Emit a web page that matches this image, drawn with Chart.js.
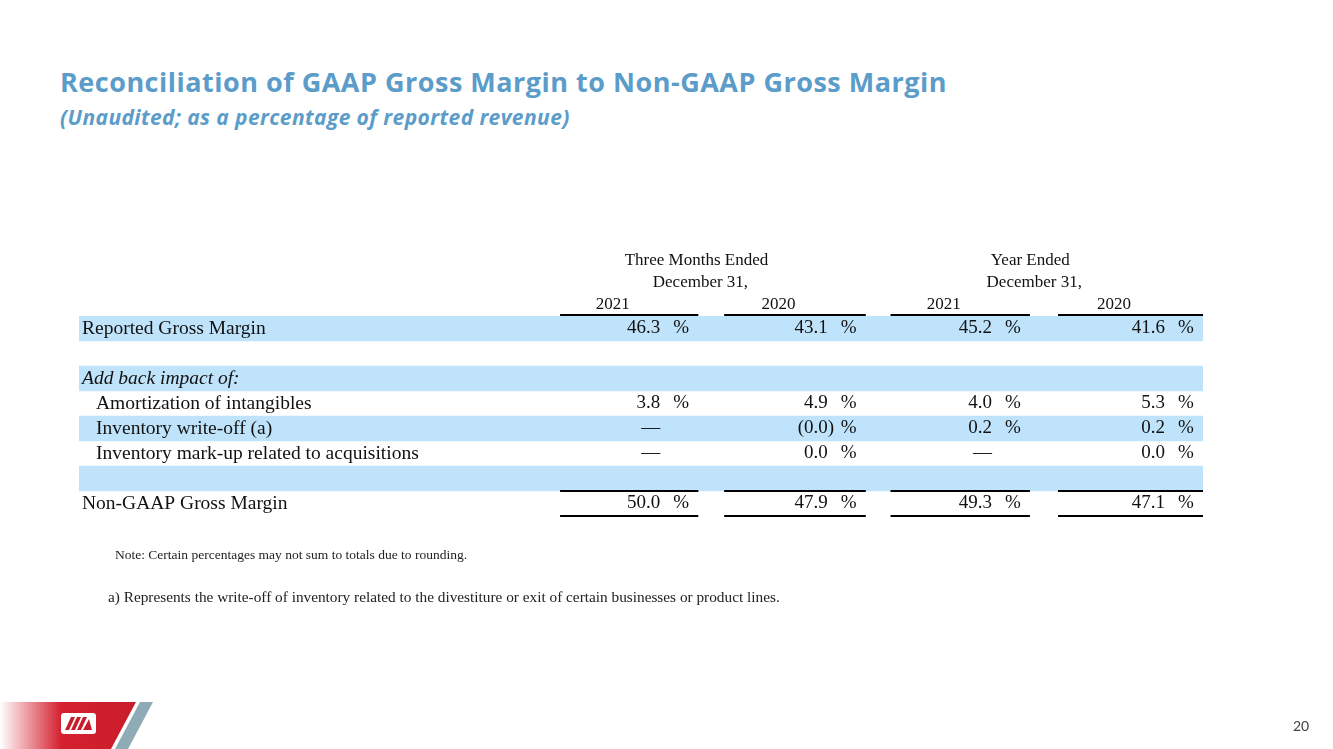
<!DOCTYPE html>
<html>
<head>
<meta charset="utf-8">
<script src="https://cdn.jsdelivr.net/npm/chart.js@4.4.1/dist/chart.umd.min.js"></script>
<style>
  html, body { margin: 0; padding: 0; background: #fff; }
  body { width: 1333px; height: 749px; position: relative; overflow: hidden; }
  .title { position: absolute; left: 60px; top: 65px; font: 700 27px "Open Sans", sans-serif; letter-spacing: 0.5px; line-height: 34px; color: #5b9cc9; white-space: nowrap; }
  .subtitle { position: absolute; left: 60px; top: 103px; font: italic 700 21px "Open Sans", sans-serif; letter-spacing: 0.4px; line-height: 28px; color: #5b9cc9; white-space: nowrap; }
  #wrap { position: absolute; left: 0; top: 0; width: 1333px; height: 749px; }
  .note { position: absolute; font-family: "Liberation Serif", serif; color: #222; white-space: nowrap; }
  .page-num { position: absolute; left: 1293px; top: 717px; font: 14px Lato, sans-serif; color: #404040; }
  .logo { position: absolute; left: 0; top: 700px; }
</style>
</head>
<body>
  <div class="title">Reconciliation of GAAP Gross Margin to Non-GAAP Gross Margin</div>
  <div class="subtitle">(Unaudited; as a percentage of reported revenue)</div>

  <div id="wrap"><canvas id="recon-table" width="1333" height="749"></canvas></div>

  <div class="note" style="left:115px; top:547px; font-size:13.5px;">Note: Certain percentages may not sum to totals due to rounding.</div>
  <div class="note" style="left:108px; top:588px; font-size:15.3px;">a) Represents the write-off of inventory related to the divestiture or exit of certain businesses or product lines.</div>

  <svg class="logo" width="170" height="49" viewBox="0 0 170 49">
    <defs>
      <linearGradient id="redFade" x1="0" x2="1" y1="0" y2="0">
        <stop offset="0" stop-color="#ffffff"/>
        <stop offset="0.45" stop-color="#d4202f"/>
        <stop offset="1" stop-color="#c91d2b"/>
      </linearGradient>
    </defs>
    <polygon points="0,2 136,2 111,49 0,49" fill="url(#redFade)"/>
    <polygon points="140,2 153,2 128,49 115,49" fill="#8fabb6"/>
    <rect x="61" y="13" width="35" height="21" rx="3" fill="#fff"/>
    <polygon points="65,30 69,30 75,17 71,17" fill="#c91d2b"/>
    <polygon points="71,30 75,30 81,17 77,17" fill="#c91d2b"/>
    <polygon points="77,30 81,30 87,17 83,17" fill="#c91d2b"/>
    <polygon points="83,30 92,30 89,19" fill="#c91d2b"/>
  </svg>

  <div class="page-num">20</div>

<script>
// ---- table data ----
const rowLabels = [
  'Reported Gross Margin',
  '',
  'Add back impact of:',
  'Amortization of intangibles',
  'Inventory write-off (a)',
  'Inventory mark-up related to acquisitions',
  '',
  'Non-GAAP Gross Margin'
];
const rowIndented = [false, false, false, true, true, true, false, false];
const rowShaded = [true, false, true, false, true, false, true, false];

const periodGroups = ['Three Months Ended', 'Year Ended'];
const periodSub = 'December 31,';
const periodYears = ['2021', '2020', '2021', '2020'];

const threeMonths2021 = ['46.3', '', '', '3.8', '—', '—', '', '50.0'];
const threeMonths2020 = ['43.1', '', '', '4.9', '(0.0)', '0.0', '', '47.9'];
const yearEnded2021   = ['45.2', '', '', '4.0', '0.2', '—', '', '49.3'];
const yearEnded2020   = ['41.6', '', '', '5.3', '0.2', '0.0', '', '47.1'];
const columns = [threeMonths2021, threeMonths2020, yearEnded2021, yearEnded2020];

// column spans as percent of table width (x scale runs 0..100)
const colSpans = [[42.8, 55.1], [57.4, 70.0], [72.2, 84.6], [87.1, 100]];

const SERIF = '"Liberation Serif", "Times New Roman", serif';

const tableText = {
  id: 'tableText',
  afterDatasetsDraw(chart) {
    const { ctx, scales: { x, y } } = chart;
    const rowH = Math.abs(y.getPixelForValue(1) - y.getPixelForValue(0));
    const y0 = y.getPixelForValue(0);
    ctx.save();
    ctx.fillStyle = '#111';
    ctx.strokeStyle = '#000';
    ctx.textBaseline = 'middle';

    // row labels
    rowLabels.forEach((label, i) => {
      if (!label) return;
      ctx.font = (i === 2 ? 'italic ' : '') + '19.5px ' + SERIF;
      ctx.textAlign = 'left';
      ctx.fillText(label, x.getPixelForValue(0) + (rowIndented[i] ? 17 : 3), y.getPixelForValue(i));
    });

    // header
    ctx.font = '17px ' + SERIF;
    ctx.textAlign = 'center';
    periodGroups.forEach((g, gi) => {
      const left = x.getPixelForValue(colSpans[gi * 2][0]);
      const right = x.getPixelForValue(colSpans[gi * 2 + 1][1]) - 33;
      const cx = (left + right) / 2;
      ctx.fillText(g, cx, y0 - 68);
      ctx.fillText(periodSub, cx + 4, y0 - 46);
    });
    periodYears.forEach((yr, c) => {
      const left = x.getPixelForValue(colSpans[c][0]);
      const right = x.getPixelForValue(colSpans[c][1]) - 33;
      ctx.fillText(yr, (left + right) / 2, y0 - 24);
    });

    // values
    ctx.font = '19px ' + SERIF;
    columns.forEach((vals, c) => {
      const colRight = x.getPixelForValue(colSpans[c][1]);
      const numRight = colRight - 38;
      vals.forEach((v, i) => {
        if (!v) return;
        const cy = y.getPixelForValue(i);
        ctx.textAlign = 'right';
        const shift = v.endsWith(')') ? ctx.measureText(')').width : 0;
        ctx.fillText(v, numRight + shift, cy);
        if (v !== '—') {
          ctx.textAlign = 'left';
          ctx.fillText('%', colRight - 25, cy);
        }
      });
    });

    // rules
    ctx.lineWidth = 2;
    const last = rowLabels.length - 1;
    const yl = y.getPixelForValue(last);
    colSpans.forEach(([a, b]) => {
      const l = x.getPixelForValue(a), r = x.getPixelForValue(b);
      [y0 - rowH / 2 - 1, yl - rowH / 2, yl + rowH / 2].forEach(ly => {
        ctx.beginPath();
        ctx.moveTo(l, ly);
        ctx.lineTo(r, ly);
        ctx.stroke();
      });
    });
    ctx.restore();
  }
};

new Chart(document.getElementById('recon-table'), {
  type: 'bar',
  data: {
    labels: rowLabels,
    datasets: [{
      data: rowShaded.map(s => (s ? [0, 100] : null)),
      backgroundColor: '#bfe3fb',
      borderWidth: 0,
      barPercentage: 1,
      categoryPercentage: 1
    }]
  },
  options: {
    indexAxis: 'y',
    responsive: false,
    animation: false,
    layout: { padding: { left: 79, right: 130, top: 316, bottom: 233 } },
    plugins: { legend: { display: false }, tooltip: { enabled: false } },
    scales: {
      x: { type: 'linear', min: 0, max: 100, display: false },
      y: { display: false }
    }
  },
  plugins: [tableText]
});
</script>
</body>
</html>
